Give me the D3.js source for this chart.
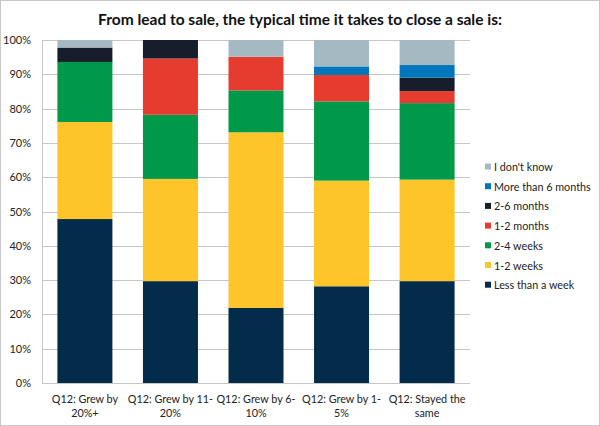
<!DOCTYPE html>
<html><head><meta charset="utf-8">
<script src="https://cdn.jsdelivr.net/npm/d3@7"></script>
<style>body{margin:0;background:#fff;} svg{display:block;}</style>
</head><body>
<svg id="c" width="600" height="426"></svg>
<script>
const categories = ["Q12: Grew by 20%+", "Q12: Grew by 11-20%", "Q12: Grew by 6-10%", "Q12: Grew by 1-5%", "Q12: Stayed the same"];
const categoryLines = [["Q12: Grew by","20%+"],["Q12: Grew by 11-","20%"],["Q12: Grew by 6-","10%"],["Q12: Grew by 1-","5%"],["Q12: Stayed the","same"]];
const seriesNames = ["Less than a week","1-2 weeks","2-4 weeks","1-2 months","2-6 months","More than 6 months","I don't know"];
const lessThanWeek = [47.8, 29.7, 21.9, 28.2, 29.7];
const oneToTwoWeeks = [28.3, 29.8, 51.2, 30.8, 29.6];
const twoToFourWeeks = [17.5, 18.7, 12.2, 23.1, 22.3];
const oneToTwoMonths = [0, 16.4, 9.8, 7.7, 3.5];
const twoToSixMonths = [4.2, 5.4, 0, 0, 3.9];
const moreThanSixMonths = [0, 0, 0, 2.5, 3.7];
const dontKnow = [2.2, 0, 4.9, 7.7, 7.3];
const yTicks = [0,10,20,30,40,50,60,70,80,90,100];
const colors = ["#032b4a","#fdc52a","#00994a","#e63c2f","#161e2b","#0077bb","#a5b9c3"];

const seriesValues = [lessThanWeek, oneToTwoWeeks, twoToFourWeeks, oneToTwoMonths, twoToSixMonths, moreThanSixMonths, dontKnow];
const rows = categories.map((c,i)=>{const r={cat:c}; seriesNames.forEach((s,j)=>r[s]=seriesValues[j][i]); return r;});
const stacked = d3.stack().keys(seriesNames)(rows);

const svg = d3.select("#c");
const font = "Lato, 'Noto Sans', sans-serif";
svg.append("rect").attr("x",0.5).attr("y",0.5).attr("width",599).attr("height",425).attr("fill","#fff").attr("stroke","#c8c8c8");

const m = {l:42, r:130, t:40, b:43};
const W = 600, H = 426;
const x = d3.scaleBand().domain(categories).range([m.l, W-m.r]).paddingInner(0.357).paddingOuter(0.18);
const y = d3.scaleLinear().domain([0,100]).range([H-m.b, m.t]);

svg.append("text").attr("x",300).attr("y",25).attr("text-anchor","middle")
  .attr("font-family","Lato, 'Open Sans', sans-serif").attr("font-weight","bold").attr("font-size",15.5).attr("fill","#111")
  .text("From lead to sale, the typical time it takes to close a sale is:");

const g = svg.append("g");
g.selectAll("line.grid").data(yTicks).join("line")
  .attr("x1",m.l).attr("x2",W-m.r).attr("y1",d=>Math.round(y(d))+0.5).attr("y2",d=>Math.round(y(d))+0.5)
  .attr("stroke","#c6c6c6").attr("stroke-width",1);
g.append("line").attr("x1",m.l+0.5).attr("x2",m.l+0.5).attr("y1",y(100)).attr("y2",y(0)).attr("stroke","#c6c6c6");

g.selectAll("text.yt").data(yTicks).join("text")
  .attr("x",m.l-11).attr("y",d=>y(d)+4).attr("text-anchor","end")
  .attr("font-family",font).attr("font-size",11).attr("fill","#222").text(d=>d+"%");

const layers = g.selectAll("g.layer").data(stacked).join("g").attr("fill",(d,i)=>colors[i]);
layers.selectAll("rect").data(d=>d).join("rect")
  .attr("x",d=>x(d.data.cat)).attr("width",x.bandwidth())
  .attr("y",d=>y(d[1])).attr("height",d=>Math.max(0,y(d[0])-y(d[1])));

categories.forEach((c,i)=>{
  const t = g.append("text").attr("text-anchor","middle").attr("font-family",font).attr("font-size",10.8).attr("fill","#222");
  categoryLines[i].forEach((ln,k)=>t.append("tspan").attr("x",x(c)+x.bandwidth()/2).attr("y",403+k*14).text(ln));
});

const legendOrder = seriesNames.slice().reverse();
const lg = svg.append("g");
legendOrder.forEach((s,i)=>{
  const yy = 167.5 + i*19.7;
  lg.append("rect").attr("x",485).attr("y",yy-4).attr("width",6).attr("height",6).attr("fill",colors[seriesNames.indexOf(s)]);
  lg.append("text").attr("x",494).attr("y",yy+3.5).attr("font-family",font).attr("font-size",10.8).attr("fill","#222").text(s);
});
</script>
</body></html>
